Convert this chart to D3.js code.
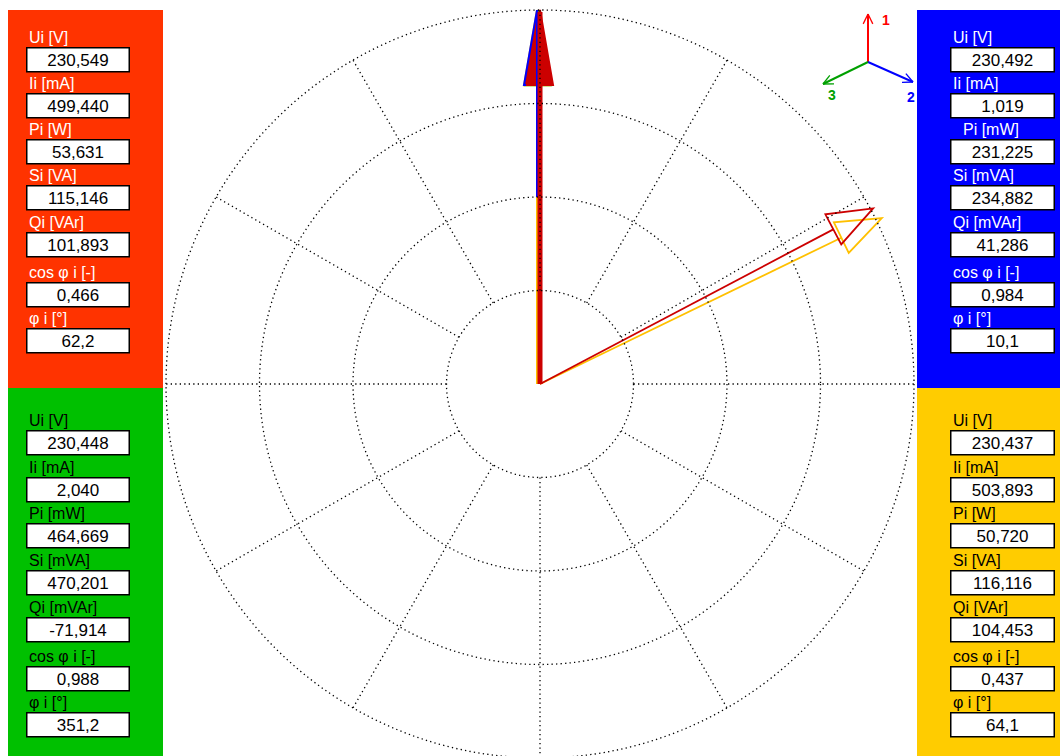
<!DOCTYPE html>
<html><head><meta charset="utf-8">
<script src="https://cdn.jsdelivr.net/npm/d3@7"></script>
<style>html,body{margin:0;padding:0;background:#fff;overflow:hidden}svg{display:block}</style>
</head><body>
<svg id="c" width="1060" height="756"></svg>
<script>
// ---- data (panel order: phase 1 red, phase 2 blue, phase 3 green, 4 yellow) ----
const phaseNames = ["1", "2", "3", "4"];
const Ui = [230.549, 230.492, 230.448, 230.437];          // V
const Ii = [499.440, 1.019, 2.040, 503.893];              // mA
const Pi = [53.631, 231.225, 464.669, 50.720];
const Si = [115.146, 234.882, 470.201, 116.116];
const Qi = [101.893, 41.286, -71.914, 104.453];
const cosPhi = [0.466, 0.984, 0.988, 0.437];
const phiDeg = [62.2, 10.1, 351.2, 64.1];
const unitP = ["W", "mW", "mW", "W"];
const unitS = ["VA", "mVA", "mVA", "VA"];
const unitQ = ["VAr", "mVAr", "mVAr", "VAr"];
const voltageAngle = [90, 90, 90, 90];                    // degrees, all phases up
const ringValues = [1, 2, 3, 4];
const spokeAngles = [0,30,60,90,120,150,180,210,240,270,300,330];

// ---- layout / style ----
const W = 1060, H = 756, cx = 540, cy = 384, R = 374;
const panelFill = ["#ff3300", "#0000ff", "#00c000", "#ffcc00"];
const labelColor = ["#ffffff", "#ffffff", "#000000", "#000000"];
const vecColor = ["#cc0000", "#0000ff", "#00b000", "#ffc000"];
const panels = [
  {x: 8, y: 10, w: 155, h: 378, bx: 26, bw: 104, boxes: [47,93,139,185,232,282,328]},
  {x: 917, y: 10, w: 143, h: 378, bx: 950, bw: 105, boxes: [47,93,139,185,232,282,328]},
  {x: 8, y: 388, w: 155, h: 368, bx: 26, bw: 104, boxes: [430,477,523,570,617,666,712]},
  {x: 917, y: 388, w: 143, h: 368, bx: 950, bw: 105, boxes: [430,477,523,570,617,666,712]}
];
const labelIndent = [[0,0,0,0,0,0,0],[0,0,10,0,0,0,0],[0,0,0,0,0,0,0],[0,0,0,0,0,0,0]];

const svg = d3.select("#c");
const rScale = d3.scaleLinear().domain([0, 4]).range([0, R]);
const uScale = d3.scaleLinear().domain([0, 230.55]).range([0, R]);
const iScale = d3.scaleLinear().domain([0, 496]).range([0, R]);
const rad = d => d * Math.PI / 180;
const pt = (r, a) => [cx + r * Math.cos(rad(a)), cy - r * Math.sin(rad(a))];

const gVec = svg.append("g");
const gGrid = svg.append("g");
const gPan = svg.append("g");

// ---- current vectors (hollow triangle heads) ----
const curOrder = [3, 0, 1, 2];
curOrder.forEach(i => {
  const a = voltageAngle[i] - phiDeg[i];
  const r = iScale(Ii[i]);
  const L = 45, w = 17;
  const tip = pt(r, a);
  const baseR = Math.max(r - L, 0);
  const base = pt(baseR, a);
  const nx = Math.sin(rad(a)), ny = Math.cos(rad(a));
  const c = vecColor[i];
  if (r < 4) return;
  gVec.append("line").attr("x1", cx).attr("y1", cy).attr("x2", base[0]).attr("y2", base[1])
    .attr("stroke", c).attr("stroke-width", 1.8);
  gVec.append("path")
    .attr("d", d3.line()([tip, [base[0] + nx * w, base[1] + ny * w], [base[0] - nx * w, base[1] - ny * w]]) + "Z")
    .attr("fill", "none").attr("stroke", c).attr("stroke-width", 1.8);
});

// ---- voltage vectors ----
const vOff = [0, -3, -2, -3];   // small drawing offsets so overlapping phases stay visible
const headOrder = [2, 3, 1, 0];
headOrder.forEach(i => {
  const r = uScale(Ui[i]);
  const tip = pt(r, voltageAngle[i]);
  const baseY = tip[1] + 75;
  gVec.append("path")
    .attr("d", d3.line()([[tip[0] + vOff[i], tip[1]], [tip[0] + vOff[i] - 13, baseY], [tip[0] + vOff[i] + 13, baseY]]) + "Z")
    .attr("fill", vecColor[0])
    .attr("stroke", vecColor[i]).attr("stroke-width", 2);
});
// shafts
[3, 1, 0].forEach(i => {
  const r = uScale(Ui[i]);
  const tip = pt(r, voltageAngle[i]);
  const from = i === 1 ? rScale(2) : 0;
  const s = pt(from, voltageAngle[i]);
  gVec.append("line")
    .attr("x1", s[0] + vOff[i]).attr("y1", s[1])
    .attr("x2", tip[0] + vOff[i]).attr("y2", tip[1] + 2)
    .attr("stroke", vecColor[i]).attr("stroke-width", i === 0 ? 5 : 2);
});

// ---- polar grid (dotted, drawn over vectors) ----
gGrid.selectAll("circle").data(ringValues).join("circle")
  .attr("cx", cx).attr("cy", cy).attr("r", d => rScale(d))
  .attr("fill", "none").attr("stroke", "#000").attr("stroke-width", 1.3)
  .attr("stroke-dasharray", "1.3,3.2");
gGrid.selectAll("line").data(spokeAngles).join("line")
  .attr("x1", d => pt(rScale(1), d)[0]).attr("y1", d => pt(rScale(1), d)[1])
  .attr("x2", d => pt(rScale(4) + (d === 270 ? 4 : 0), d)[0]).attr("y2", d => pt(rScale(4) + (d === 270 ? 4 : 0), d)[1])
  .attr("stroke", "#000").attr("stroke-width", 1.3).attr("stroke-dasharray", "1.3,3.2");

// ---- axes icon top right ----
const ax = 868, ay = 62;
const icon = [
  {dx: 0, dy: -48, c: "#ff0000", lbl: phaseNames[0], lx: 882, ly: 25},
  {dx: 45, dy: 20, c: "#0000ff", lbl: phaseNames[1], lx: 907, ly: 102},
  {dx: -45, dy: 22, c: "#00a000", lbl: phaseNames[2], lx: 828, ly: 100}
];
icon.forEach(o => {
  const ex = ax + o.dx, ey = ay + o.dy;
  const ang = Math.atan2(o.dy, o.dx);
  svg.append("line").attr("x1", ax).attr("y1", ay).attr("x2", ex).attr("y2", ey)
    .attr("stroke", o.c).attr("stroke-width", 2);
  [0.45, -0.45].forEach(s => {
    svg.append("line").attr("x1", ex).attr("y1", ey)
      .attr("x2", ex - 11 * Math.cos(ang + s)).attr("y2", ey - 11 * Math.sin(ang + s))
      .attr("stroke", o.c).attr("stroke-width", 1.3);
  });
  svg.append("text").attr("x", o.lx).attr("y", o.ly).text(o.lbl)
    .attr("fill", o.c).attr("font-family", "Liberation Sans, Arial, sans-serif")
    .attr("font-size", 14).attr("font-weight", "bold");
});

// ---- panels ----
const fmt3 = v => d3.format(".3f")(v).replace(".", ",").replace("−", "-");
const fmt1 = v => d3.format(".1f")(v).replace(".", ",");
panels.forEach((p, i) => {
  const g = gPan.append("g");
  g.append("rect").attr("x", p.x).attr("y", p.y).attr("width", p.w).attr("height", p.h)
    .attr("fill", panelFill[i]);
  const labels = ["Ui [V]", "Ii [mA]", `Pi [${unitP[i]}]`, `Si [${unitS[i]}]`, `Qi [${unitQ[i]}]`, "cos φ i [-]", "φ i [°]"];
  const vals = [fmt3(Ui[i]), fmt3(Ii[i]), fmt3(Pi[i]), fmt3(Si[i]), fmt3(Qi[i]), fmt3(cosPhi[i]), fmt1(phiDeg[i])];
  labels.forEach((l, k) => {
    const by = p.boxes[k];
    g.append("text").attr("x", p.bx + 3 + labelIndent[i][k]).attr("y", by - 4).text(l)
      .attr("fill", labelColor[i]).attr("font-family", "Liberation Sans, Arial, sans-serif")
      .attr("font-size", 16);
    g.append("rect").attr("x", p.bx + 0.75).attr("y", by + 0.75).attr("width", p.bw - 1.5).attr("height", 24)
      .attr("fill", "#fff").attr("stroke", "#000").attr("stroke-width", 1.5);
    g.append("text").attr("x", p.bx + p.bw / 2).attr("y", by + 19).text(vals[k])
      .attr("text-anchor", "middle").attr("fill", "#000")
      .attr("font-family", "Liberation Sans, Arial, sans-serif").attr("font-size", 17);
  });
});
</script>
</body></html>
